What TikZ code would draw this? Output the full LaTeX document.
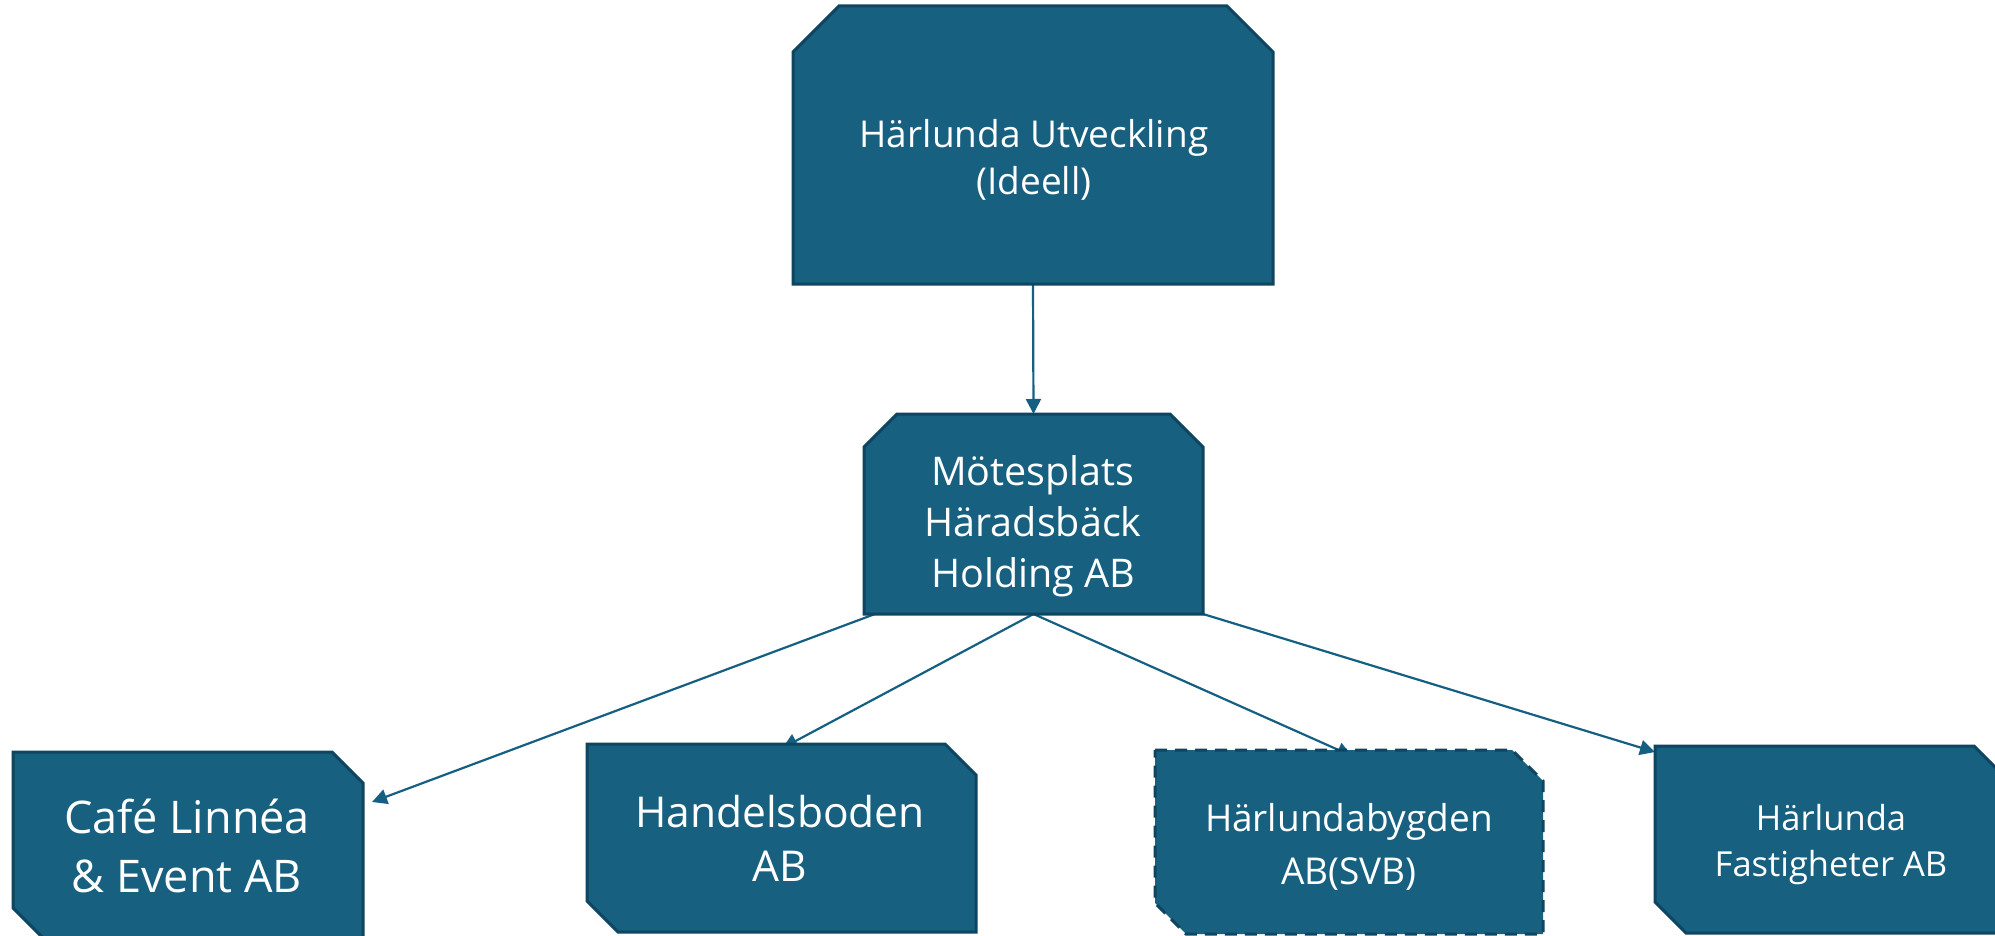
\documentclass[tikz,border=0pt]{standalone}
\usepackage{fontspec}
\setmainfont{Open Sans}
\usetikzlibrary{calc,arrows.meta}
\definecolor{boxfill}{HTML}{17607F}
\definecolor{boxline}{HTML}{0E4560}
\definecolor{arrcol}{HTML}{156082}
\newcommand\myfs[2]{\fontsize{#1}{#2}\selectfont}
% chamfer top-left and top-right
\newcommand\chamtop[3]{%
 \path[#3] ($(#1.north west)+(0,#2)$) -- ($(#1.north west)+(#2,0)$) -- ($(#1.north east)+(-#2,0)$) -- ($(#1.north east)+(0,#2)$) -- (#1.south east) -- (#1.south west) -- cycle;}
% chamfer top-right and bottom-left
\newcommand\chamdiag[3]{%
 \path[#3] (#1.north west) -- ($(#1.north east)+(-#2,0)$) -- ($(#1.north east)+(0,#2)$) -- (#1.south east) -- ($(#1.south west)+(#2,0)$) -- ($(#1.south west)+(0,-#2)$) -- cycle;}
\begin{document}
\begin{tikzpicture}[x=1pt,y=-1pt,
  frame/.style={draw=none,inner sep=0pt,outer sep=0pt},
  boxshape/.style={fill=boxfill,draw=boxline,line width=3pt,line join=miter},
  dashbox/.style={boxshape,dash pattern=on 12pt off 8pt},
  arr/.style={draw=arrcol,line width=2.2pt,-{Triangle[length=15pt,width=15pt]}},
  txt/.style={text=white,align=center,inner sep=0pt}]
\useasboundingbox (0,0) rectangle (1995,936);
\fill[white] (0,0) rectangle (1995,936);
\clip (0,0) rectangle (1995,936);
% frames
\node[frame,minimum width=480pt,minimum height=278pt] (top) at (1033,145) {};
\node[frame,minimum width=339pt,minimum height=200pt] (mid) at (1033.5,514) {};
\node[frame,minimum width=350pt,minimum height=187pt] (cafe) at (188,845.5) {};
\node[frame,minimum width=389pt,minimum height=188pt] (hand) at (781.5,838) {};
\node[frame,minimum width=388pt,minimum height=184pt] (harl) at (1349,842) {};
\node[frame,minimum width=350pt,minimum height=187pt] (fast) at (1830,839.5) {};
% connectors
\draw[arr] (top.south) -- (mid.north);
\draw[arr] ($(mid.south west)+(11,0)$) -- ($(cafe.north east)+(9,50)$);
\draw[arr] (mid.south) -- ($(hand.north)+(1,4)$);
\draw[arr] (mid.south) -- ($(harl.north)+(3,6)$);
\draw[arr] (mid.south east) -- ($(fast.north west)+(0,6)$);
% boxes
\chamtop{top}{46}{boxshape}
\chamtop{mid}{33}{boxshape}
\chamdiag{cafe}{31}{boxshape}
\chamdiag{hand}{31}{boxshape}
\chamdiag{harl}{31}{dashbox}
\chamdiag{fast}{31}{boxshape}
% texts
\node[txt,font={\myfs{37}{47}}] (topt) at (1034,160) {Härlunda Utveckling\\(Ideell)};
\node[txt,font={\myfs{39.5}{51}}] (midt) at (1033,526) {Mötesplats\\Häradsbäck\\Holding AB};
\node[txt,font={\myfs{45}{59}}] (cafet) at (187,846) {Café Linnéa\\\& Event AB};
\node[txt,font={\myfs{42.5}{54}}] (handt) at (780,838) {Handelsboden\\AB};
\node[txt,font={\myfs{37}{53}}] (harlt) at (1349,847) {Härlundabygden\\AB(SVB)};
\node[txt,font={\myfs{34.5}{46}}] (fastt) at (1831,845) {Härlunda\\Fastigheter AB};
\end{tikzpicture}
\end{document}
